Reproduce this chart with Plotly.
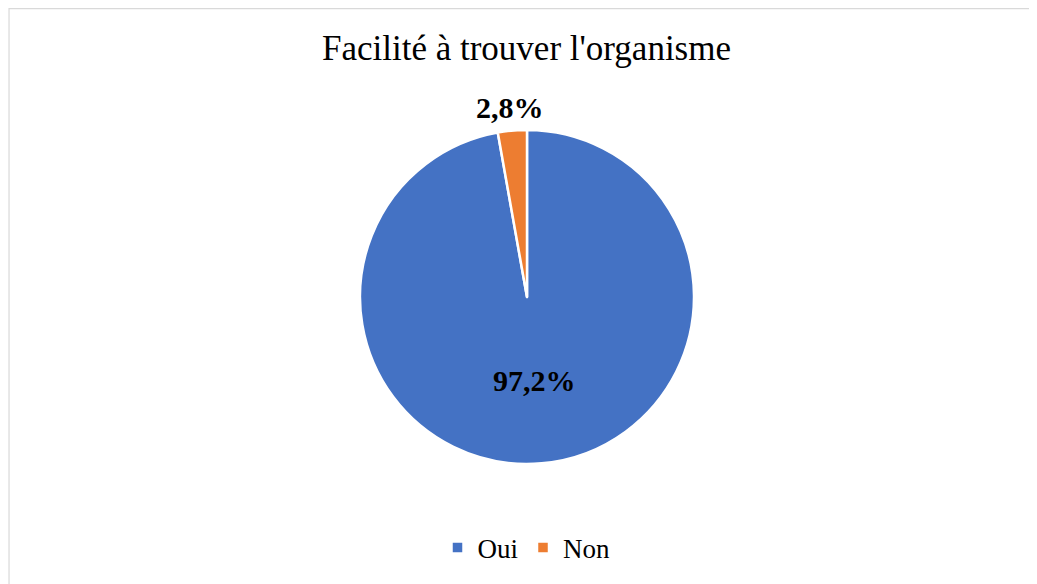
import math
import plotly.graph_objects as go

labels = ["Oui", "Non"]
values = [97.2, 2.8]
text_labels = ["97,2%", "2,8%"]
colors = ["#4472C4", "#ED7D31"]
title_text = "Facilité à trouver l'organisme"

W, H = 1037, 584
OFF = 8  # page body margin
cx, cy, r = 527 - OFF, 297 - OFF, 167

# outside label for the small slice, placed along its mid-angle
total = sum(values)
mid_frac = (sum(values[:1]) + values[1] / 2) / total
theta = 2 * math.pi * mid_frac
lr = r + 23
lx = cx + lr * math.sin(theta)
ly = cy - lr * math.cos(theta)

fig = go.Figure(go.Pie(
    labels=labels,
    values=values,
    text=text_labels,
    texttemplate=["<b>%{text}</b>", ""],
    textinfo="text",
    textposition=["inside", "none"],
    insidetextorientation="horizontal",
    sort=False,
    direction="clockwise",
    rotation=0,
    marker=dict(colors=colors, line=dict(color="white", width=2.5)),
    textfont=dict(family="Liberation Serif", size=30, color="black"),
    domain=dict(x=[(cx - r) / W, (cx + r) / W], y=[1 - (cy + r) / H, 1 - (cy - r) / H]),
    hoverinfo="label+percent",
))

fig.update_layout(
    width=W, height=H,
    margin=dict(l=0, r=0, t=0, b=0),
    paper_bgcolor="white",
    plot_bgcolor="white",
    title=dict(text=title_text, x=0.5, xanchor="center", y=1 - (48 - OFF) / H, yanchor="middle",
               font=dict(family="Liberation Serif", size=35, color="black")),
    legend=dict(orientation="h", x=0.5, xanchor="center", y=1 - (548 - OFF) / H, yanchor="middle",
                font=dict(family="Liberation Serif", size=27, color="black"),
                itemwidth=30, traceorder="normal"),
    annotations=[dict(text="<b>" + text_labels[1] + "</b>", x=lx / W, y=1 - ly / H,
                      xref="paper", yref="paper", xanchor="center", yanchor="middle",
                      showarrow=False, font=dict(family="Liberation Serif", size=30, color="black"))],
    shapes=[dict(type="rect", xref="paper", yref="paper", x0=0.001, x1=1.01, y0=-0.01, y1=0.999,
                 line=dict(color="#D9D9D9", width=1.2), fillcolor="rgba(0,0,0,0)")],
)

fig.write_html("out.html")
